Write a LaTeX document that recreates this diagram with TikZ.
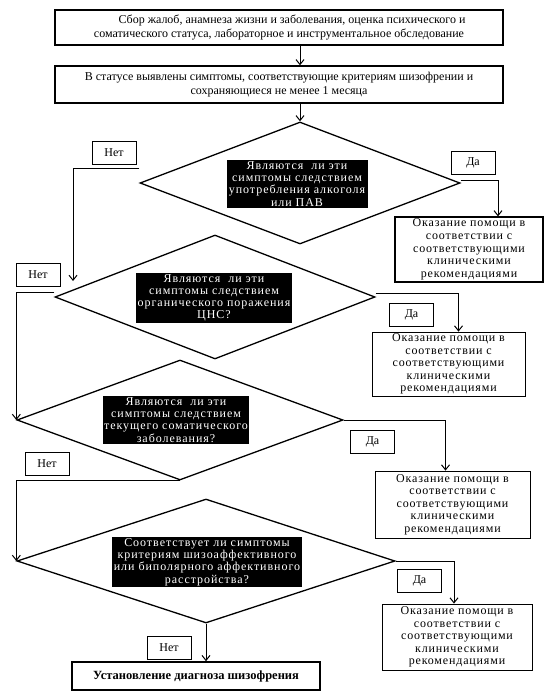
\documentclass[tikz,border=0pt]{standalone}
\usepackage{fontspec}
\setmainfont{Liberation Serif}
\newfontfamily\spacedfont[LetterSpace=7]{Liberation Serif}
\newfontfamily\qfont[LetterSpace=8]{Liberation Serif}
\usetikzlibrary{arrows.meta,shapes.geometric}
\begin{document}
\begin{tikzpicture}[x=1pt,y=-1pt,
  font=\fontsize{12}{14}\selectfont,
  mainbox/.style={draw, line width=1.3pt, align=center, inner sep=1pt},
  helpbox/.style={draw, line width=0.8pt, align=center, inner sep=1pt, font=\spacedfont\fontsize{12}{12.6}\selectfont},
  qbox/.style={fill=black, text=white, align=center, inner sep=1.5pt, font=\qfont\fontsize{12}{12.2}\selectfont},
  lbl/.style={draw, line width=0.9pt, minimum width=44pt, minimum height=23pt, inner sep=0pt},
  dia/.style={draw, line width=1.3pt, diamond, inner sep=0pt},
  arr/.style={line width=1pt, -{Straight Barb[length=5pt,width=8pt]}},
  ln/.style={line width=1pt}]
\useasboundingbox (0,0) rectangle (549,700);
\fill[white] (0,0) rectangle (549,700);

\node[mainbox, minimum width=448pt, minimum height=35pt] (b1) at (279,27.5)
  {\hspace*{26pt}Сбор жалоб, анамнеза жизни и заболевания, оценка психического и\\
   соматического статуса, лабораторное и инструментальное обследование};
\node[mainbox, minimum width=448pt, minimum height=37pt] (b2) at (279,84.5)
  {В статусе выявлены симптомы, соответствующие критериям шизофрении и\\
   сохраняющиеся не менее 1 месяца};

\node[dia, minimum width=320pt, minimum height=122pt] (d1) at (300,183) {};
\node[dia, minimum width=320pt, minimum height=124pt] (d2) at (215,297) {};
\node[dia, minimum width=326pt, minimum height=120pt] (d3) at (180,420) {};
\node[dia, minimum width=378pt, minimum height=124pt] (d4) at (206,561) {};

\node[qbox, minimum width=141pt] (q1) at (297,184)
  {Являются \ ли эти\\ симптомы следствием\\ употребления алкоголя\\ или ПАВ};
\node[qbox, minimum width=145pt] (q2) at (214,298)
  {Являются \ ли эти\\ симптомы следствием\\ органического поражения\\ ЦНС?};
\node[qbox, minimum width=144pt] (q3) at (176,420)
  {Являются \ ли эти\\ симптомы следствием\\ текущего соматического\\ заболевания?};
\node[qbox, minimum width=174pt] (q4) at (207,562)
  {Соответствует ли симптомы\\ критериям шизоаффективного\\ или биполярного аффективного\\ расстройства?};

\node[helpbox, line width=1.2pt, minimum width=148pt, minimum height=65pt] (h1) at (469,249.5)
  {Оказание помощи в\\ соответствии с\\ соответствующими\\ клиническими\\ рекомендациями};
\node[helpbox, minimum width=153pt, minimum height=64pt] (h2) at (448.5,364)
  {Оказание помощи в\\ соответствии с\\ соответствующими\\ клиническими\\ рекомендациями};
\node[helpbox, minimum width=155pt, minimum height=67pt] (h3) at (452.5,504.5)
  {Оказание помощи в\\ соответствии с\\ соответствующими\\ клиническими\\ рекомендациями};
\node[helpbox, minimum width=150pt, minimum height=66pt] (h4) at (457,637)
  {Оказание помощи в\\ соответствии с\\ соответствующими\\ клиническими\\ рекомендациями};

\node[mainbox, line width=1.6pt, minimum width=248pt, minimum height=28pt, font=\fontsize{12.5}{14}\selectfont\bfseries] (fin) at (196,676)
  {Установление диагноза шизофрения};

\node[lbl] (y1) at (473,162.5) {Да};
\node[lbl] (y2) at (411.5,315) {Да};
\node[lbl] (y3) at (372.5,442) {Да};
\node[lbl] (y4) at (419.5,580.5) {Да};
\node[lbl] (n1) at (114,153) {Нет};
\node[lbl] (n2) at (38,275) {Нет};
\node[lbl] (n3) at (47,464) {Нет};
\node[lbl] (n4) at (169,647.5) {Нет};

\coordinate (n1end) at (73,281);

% main flow
\draw[arr] (b1.south -| d1.north) -- (b2.north -| d1.north);
\draw[arr] (b2.south -| d1.north) -- (d1.north);
% yes branches
\draw[arr] ([yshift=2pt]d1.east) -| ([xshift=29pt]h1.north);
\draw[arr] ([yshift=4pt]d2.east) -| ([xshift=10pt]h2.north);
\draw[arr] (d3.east) -| ([xshift=-7pt]h3.north);
\draw[arr] (d4.east) -| ([xshift=-3pt]h4.north);
% no branches
\draw[arr] ([yshift=14pt]d1.west) -| (n1end);
\draw[arr] ([yshift=5pt]d2.west) -| (d3.west);
\draw[arr] (d3.south) -| (d4.west);
\draw[arr] (d4.south) -- (fin.north -| d4.south);
\end{tikzpicture}
\end{document}
